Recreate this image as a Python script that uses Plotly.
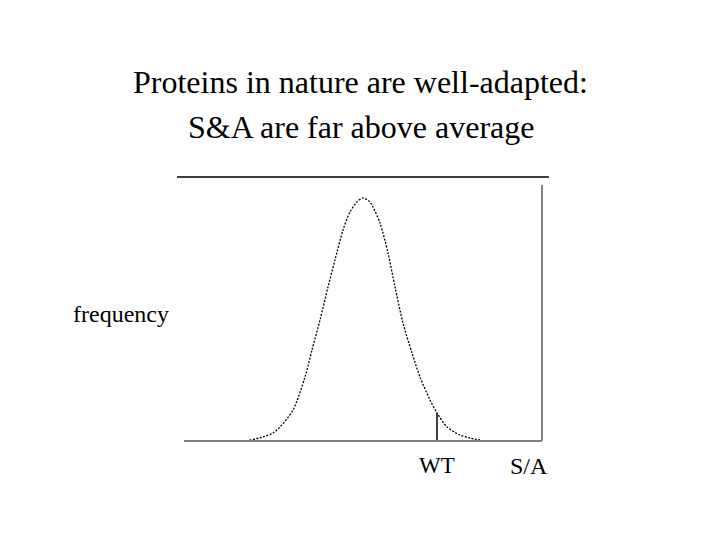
import plotly.graph_objects as go

# S/A score (arbitrary units) and frequency of the distribution
sa_score = [61, 78, 88, 95, 108, 120, 127, 135, 143, 150, 158, 165, 172, 178,
            185, 188, 195, 203, 210, 218, 227, 235, 245, 252, 262, 275, 285, 295]
frequency = [0, 4, 8, 14, 31, 64, 91, 121, 154, 181, 211, 229, 239, 243,
             239, 234, 218, 188, 154, 118, 88, 64, 41, 28, 14, 6, 3, 1]

wt_x = 252
wt_y = 28

title_lines = ["Proteins in nature are well-adapted:", "S&A are far above average"]
y_label = "frequency"
wt_label = "WT"
x_label = "S/A"

# plot area geometry (page pixels); the page body adds an 8px offset
OFF = 8
L, R, T, B = 185, 541, 177, 441
W, H = 720, 540

def px(x):
    return (x - L) / (R - L)

def py(y):
    return (B - y) / (B - T)

fig = go.Figure()
fig.add_trace(go.Scatter(
    x=sa_score, y=frequency, mode="lines",
    line=dict(color="black", width=1.3, dash="2px,1.5px", shape="spline", smoothing=0.8),
    hoverinfo="skip", showlegend=False,
))
fig.add_trace(go.Scatter(
    x=[wt_x, wt_x], y=[0, wt_y], mode="lines",
    line=dict(color="black", width=1.5),
    hoverinfo="skip", showlegend=False,
))

serif = "Liberation Serif, Times New Roman, serif"

shapes = [
    dict(type="line", xref="paper", yref="paper", x0=px(177), x1=px(549), y0=py(177), y1=py(177),
         line=dict(color="black", width=1.5)),
    dict(type="line", xref="paper", yref="paper", x0=px(542), x1=px(542), y0=py(185), y1=py(441),
         line=dict(color="#808080", width=2)),
    dict(type="line", xref="paper", yref="paper", x0=px(184), x1=px(542), y0=py(441), y1=py(441),
         line=dict(color="#808080", width=2)),
]

def label(text, x, y, size):
    return dict(text=text, x=px(x), y=py(y), xref="paper", yref="paper",
                xanchor="center", yanchor="middle", showarrow=False,
                font=dict(family=serif, size=size, color="black"))

annotations = [
    label(title_lines[0], 360, 82, 32),
    label(title_lines[1], 361, 127, 32),
    label(y_label, 121, 314, 24),
    label(wt_label, 437, 465, 23),
    label(x_label, 529, 466, 24),
]

fig.update_layout(
    width=W, height=H,
    margin=dict(l=L - OFF, r=W - (R - OFF), t=T - OFF, b=H - (B - OFF), pad=0),
    paper_bgcolor="white", plot_bgcolor="white",
    xaxis=dict(range=[0, R - L], visible=False, fixedrange=True),
    yaxis=dict(range=[0, B - T], visible=False, fixedrange=True),
    shapes=shapes, annotations=annotations,
    showlegend=False,
)

fig.write_html("out.html")
